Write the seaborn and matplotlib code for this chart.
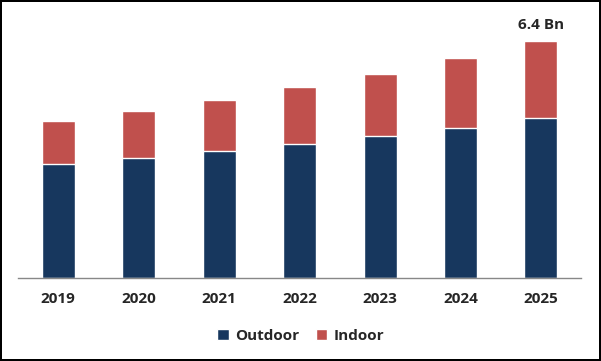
import matplotlib
matplotlib.use("Agg")
import matplotlib.pyplot as plt
import seaborn as sns
import pandas as pd
import numpy as np
from matplotlib.patches import Patch

years = ["2019", "2020", "2021", "2022", "2023", "2024", "2025"]
outdoor = [3.08, 3.24, 3.43, 3.62, 3.83, 4.05, 4.32]
indoor = [1.16, 1.27, 1.38, 1.54, 1.68, 1.89, 2.08]
annotation = "6.4 Bn"

navy = "#17375E"
red = "#C0504D"

df = pd.DataFrame({"year": years, "Outdoor": outdoor, "Indoor": indoor})
df["Total"] = df["Outdoor"] + df["Indoor"]

sns.set_style("white")
plt.rcParams["font.family"] = ["Open Sans", "DejaVu Sans"]

fig = plt.figure(figsize=(6.01, 3.61), dpi=100, linewidth=1.5, edgecolor="black")
ax = fig.add_axes([0.030, 0.230, 0.937, 0.717])

sns.barplot(data=df, x="year", y="Total", color=red, width=0.41, saturation=1, ax=ax)
sns.barplot(data=df, x="year", y="Outdoor", color=navy, width=0.41, saturation=1, ax=ax)

ax.set_ylim(0, 7.0)
ax.set_xlim(-0.5, len(years) - 0.5)
ax.set_xlabel("")
ax.set_ylabel("")
ax.set_yticks([])
for s in ["top", "right", "left"]:
    ax.spines[s].set_visible(False)
ax.spines["bottom"].set_color("#888888")
ax.spines["bottom"].set_linewidth(1)

ax.set_xticks(np.arange(len(years)))
ax.set_xticklabels(years, fontsize=11, fontweight="bold")
ax.tick_params(axis="x", which="major", length=0, pad=10)
ax.set_xticks(np.arange(-0.5, len(years), 1.0), minor=True)
ax.tick_params(axis="x", which="minor", length=5, color="#888888", width=1)

ax.text(len(years) - 1, df["Total"].iloc[-1] + 0.25, annotation, ha="center", va="bottom",
        fontsize=11, fontweight="bold")

handles = [Patch(facecolor=navy, label="Outdoor"), Patch(facecolor=red, label="Indoor")]
fig.legend(handles=handles, loc="center", bbox_to_anchor=(0.5, 0.07), ncol=2, frameon=False,
           prop={"weight": "bold", "size": 11}, handlelength=0.75, handleheight=0.75,
           handletextpad=0.4, columnspacing=1.1)

fig.savefig("out.png", dpi=100, edgecolor=fig.get_edgecolor())
